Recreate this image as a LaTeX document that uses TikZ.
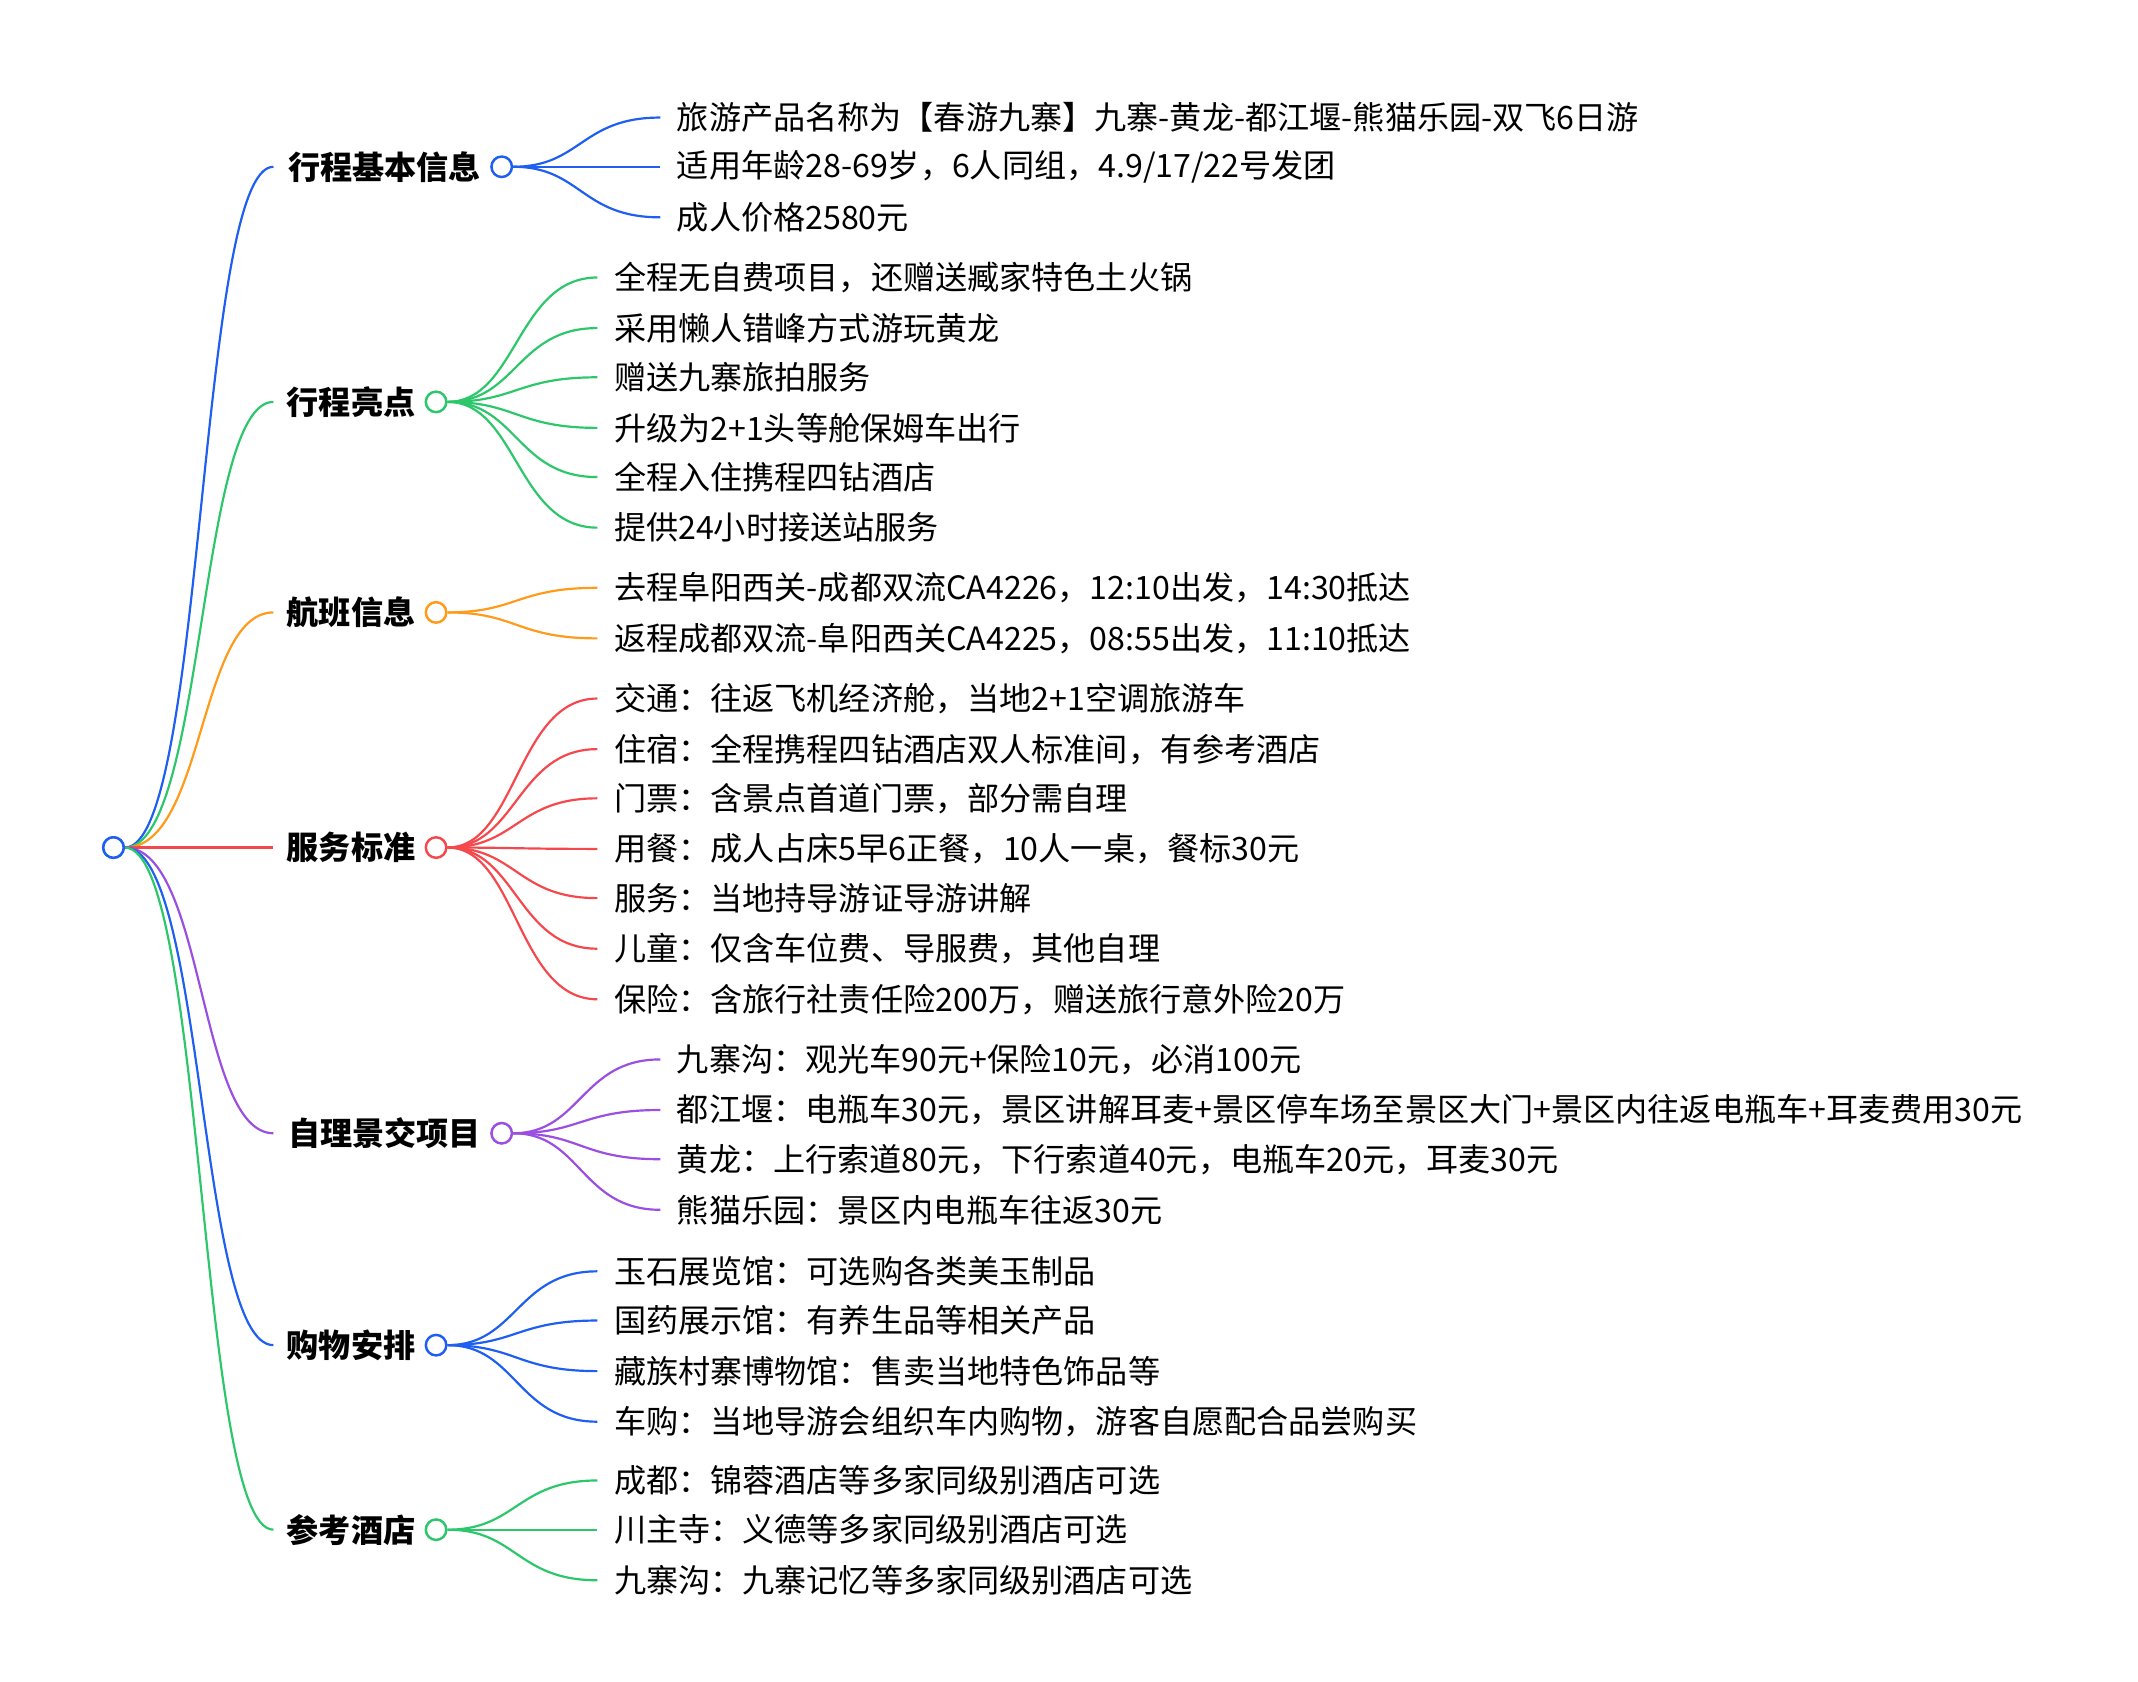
\documentclass[tikz,border=0pt]{standalone}
\usepackage{fontspec}
\setmainfont{Noto Sans CJK SC}
\usetikzlibrary{calc}
\definecolor{cb}{HTML}{1E5EF0}
\definecolor{cg}{HTML}{2CC76A}
\definecolor{co}{HTML}{FF9A1A}
\definecolor{cr}{HTML}{F5484D}
\definecolor{cp}{HTML}{9A4FE0}
\tikzset{x=1pt,y=-1pt,
 dot/.style={circle,draw=#1,fill=white,line width=1.8pt,minimum size=15pt,inner sep=0},
 lab/.style={font=\fontsize{23.5}{23.5}\selectfont\bfseries,anchor=east,inner sep=0},
 leaf/.style={font=\fontsize{23.5}{23.5}\selectfont,anchor=west,inner sep=0},
 con/.style={draw=#1,line width=1.6pt}}
\newcommand{\mybranch}[5]{% name,color,y,circlex,label
 \node[dot=#2] (#1c) at (#4,#3) {};
 \node[lab] (#1l) at (#4-15,#3) {#5};
 \coordinate (#1s) at (200,#3);
 \draw[con=#2] (root.east) .. controls (150,620) and (145,#3) .. (#1s);
}
\newcommand{\myleaf}[8]{% branch,color,idx,y,leafx,text,circlex,branchy
 \coordinate (#1e#3) at (#5,#4);
 \node[leaf] (#1t#3) at (#5+12,#4) {#6};
 \draw[con=#2] (#1c.east) .. controls ({(#7+#5)/2},#8) and ({(#7+#5)/2},#4) .. (#1e#3);
}
\begin{document}
\begin{tikzpicture}
\useasboundingbox (0,0) rectangle (1564,1230);
\node[dot=cb] (root) at (83,620) {};
\mybranch{a}{cb}{122}{367}{行程基本信息}
\myleaf{a}{cb}{1}{86}{483}{旅游产品名称为【春游九寨】九寨-黄龙-都江堰-熊猫乐园-双飞6日游}{367}{122}
\myleaf{a}{cb}{2}{122}{483}{适用年龄28-69岁，6人同组，4.9/17/22号发团}{367}{122}
\myleaf{a}{cb}{3}{159}{483}{成人价格2580元}{367}{122}
\mybranch{b}{cg}{294}{319}{行程亮点}
\myleaf{b}{cg}{1}{203}{437}{全程无自费项目，还赠送臧家特色土火锅}{319}{294}
\myleaf{b}{cg}{2}{240}{437}{采用懒人错峰方式游玩黄龙}{319}{294}
\myleaf{b}{cg}{3}{276}{437}{赠送九寨旅拍服务}{319}{294}
\myleaf{b}{cg}{4}{313}{437}{升级为2+1头等舱保姆车出行}{319}{294}
\myleaf{b}{cg}{5}{349}{437}{全程入住携程四钻酒店}{319}{294}
\myleaf{b}{cg}{6}{386}{437}{提供24小时接送站服务}{319}{294}
\mybranch{c}{co}{448}{319}{航班信息}
\myleaf{c}{co}{1}{430}{437}{去程阜阳西关-成都双流CA4226，12:10出发，14:30抵达}{319}{448}
\myleaf{c}{co}{2}{467}{437}{返程成都双流-阜阳西关CA4225，08:55出发，11:10抵达}{319}{448}
\node[dot=cr] (dc) at (319,620) {};
\node[lab] (dl) at (304,620) {服务标准};
\coordinate (ds) at (200,620);
\draw[con=cr] (root.east) -- (ds);
\myleaf{d}{cr}{1}{511}{437}{交通：往返飞机经济舱，当地2+1空调旅游车}{319}{620}
\myleaf{d}{cr}{2}{548}{437}{住宿：全程携程四钻酒店双人标准间，有参考酒店}{319}{620}
\myleaf{d}{cr}{3}{584}{437}{门票：含景点首道门票，部分需自理}{319}{620}
\myleaf{d}{cr}{4}{621}{437}{用餐：成人占床5早6正餐，10人一桌，餐标30元}{319}{620}
\myleaf{d}{cr}{5}{657}{437}{服务：当地持导游证导游讲解}{319}{620}
\myleaf{d}{cr}{6}{694}{437}{儿童：仅含车位费、导服费，其他自理}{319}{620}
\myleaf{d}{cr}{7}{731}{437}{保险：含旅行社责任险200万，赠送旅行意外险20万}{319}{620}
\mybranch{e}{cp}{829}{367}{自理景交项目}
\myleaf{e}{cp}{1}{775}{483}{九寨沟：观光车90元+保险10元，必消100元}{367}{829}
\myleaf{e}{cp}{2}{812}{483}{都江堰：电瓶车30元，景区讲解耳麦+景区停车场至景区大门+景区内往返电瓶车+耳麦费用30元}{367}{829}
\myleaf{e}{cp}{3}{848}{483}{黄龙：上行索道80元，下行索道40元，电瓶车20元，耳麦30元}{367}{829}
\myleaf{e}{cp}{4}{885}{483}{熊猫乐园：景区内电瓶车往返30元}{367}{829}
\mybranch{f}{cb}{984}{319}{购物安排}
\myleaf{f}{cb}{1}{930}{437}{玉石展览馆：可选购各类美玉制品}{319}{984}
\myleaf{f}{cb}{2}{966}{437}{国药展示馆：有养生品等相关产品}{319}{984}
\myleaf{f}{cb}{3}{1003}{437}{藏族村寨博物馆：售卖当地特色饰品等}{319}{984}
\myleaf{f}{cb}{4}{1040}{437}{车购：当地导游会组织车内购物，游客自愿配合品尝购买}{319}{984}
\mybranch{g}{cg}{1119}{319}{参考酒店}
\myleaf{g}{cg}{1}{1083}{437}{成都：锦蓉酒店等多家同级别酒店可选}{319}{1119}
\myleaf{g}{cg}{2}{1119}{437}{川主寺：义德等多家同级别酒店可选}{319}{1119}
\myleaf{g}{cg}{3}{1156}{437}{九寨沟：九寨记忆等多家同级别酒店可选}{319}{1119}
\node[dot=cb] at (root) {};
\end{tikzpicture}
\end{document}
